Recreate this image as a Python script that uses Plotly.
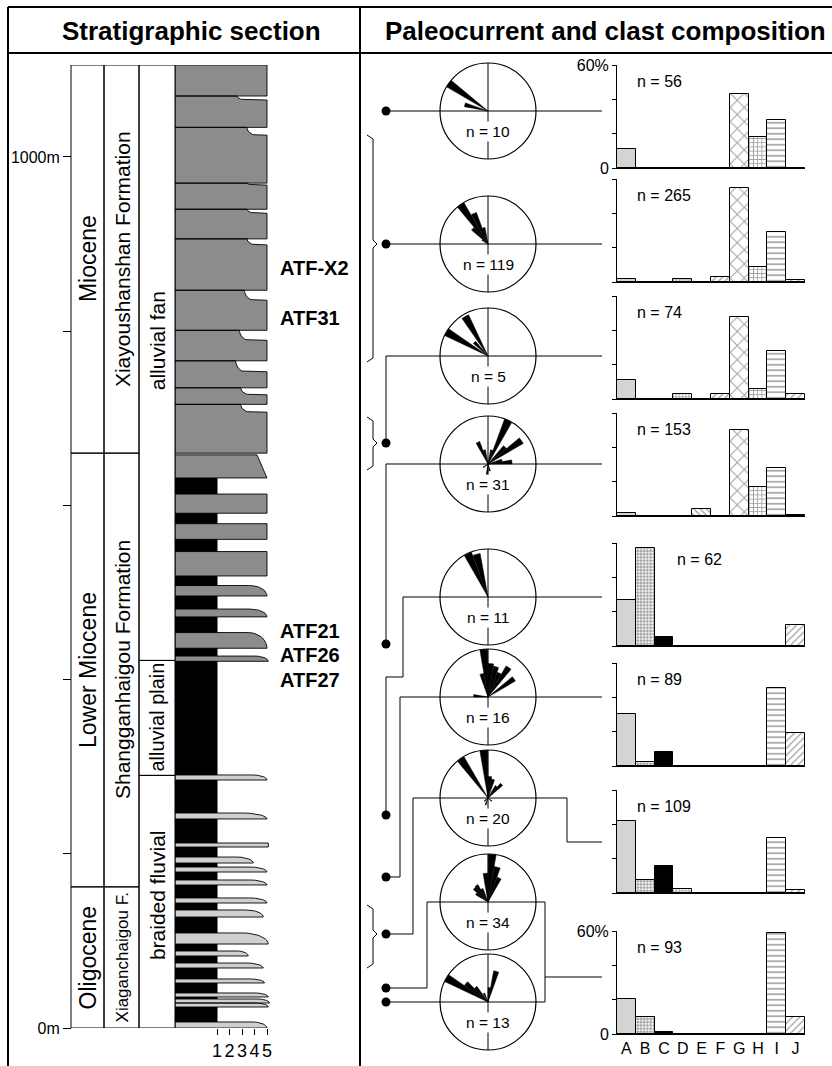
import numpy as np
import plotly.graph_objects as go

W, H = 832, 1066
FONT = "Liberation Sans, Arial, Helvetica, sans-serif"


def px(x):
    return x / W


def py(y):
    return 1 - y / H


# ---------------------------------------------------------------- data
# Stratigraphic section (depth in metres, grain-size scale 1-5)
section_top_m = 1105.6
depth_ticks = [0, 200, 400, 600, 800, 1000]
depth_ticktext = ["0m", "", "", "", "", "1000m"]
grain_ticks = [1, 2, 3, 4, 5]

epoch_names = ["Miocene", "Lower Miocene", "Oligocene"]
epoch_bounds = [1105.6, 660, 162, 0]
formation_names = ["Xiayoushanshan Formation", "Shangganhaigou Formation", "Xiaganchaigou F."]
formation_bounds = [1105.6, 660, 162, 0]
facies_names = ["alluvial fan", "alluvial plain", "braided fluvial"]
facies_bounds = [1105.6, 422, 290, 0]
facies_label_depth = [789, 357, 152]

mud_top_m = 631.5
mud_grain = 1.0

# alluvial-fan conglomerate beds (dark grey)
fan_base = [1070, 1034, 970, 940, 906, 847, 801, 766, 735, 716, 660, 631.5, 591, 561, 519, 496, 472, 436, 421]
fan_top = [1105.6, 1070, 1034, 970, 940, 906, 847, 801, 766, 735, 716, 658, 613, 579, 547, 508, 481, 454, 427]
fan_grain = [5, 5, 5, 5, 5, 5, 5, 5, 5, 5, 5, 5, 5, 5, 5, 5, 5, 5, 5.1]
fan_top_grain = [5, 2.6, 3.4, 3.4, 3.4, 3.4, 3.2, 2.8, 2.5, 2.9, 2.9, 4.2, 5, 5, 5, 3.6, 3.6, 3.5, 4.0]
fan_cap = [0, 4.6, 9, 2.3, 4.6, 7, 11.5, 11.5, 12.6, 8, 9, 26.5, 0, 0, 0, 12, 9, 18, 6]
fan_profile = ["rect", "notch", "notch", "notch", "notch", "notch", "notch", "notch", "notch",
               "notch", "notch", "ramp", "rect", "rect", "rect", "lens", "lens", "lens", "lens"]

# braided-fluvial / alluvial-plain sandstone-conglomerate beds (light grey)
fluv_base = [284.7, 240, 207.8, 189.4, 179.1, 164.2, 143.5, 127.4, 96.4, 82.7, 68.9, 51.7, 35.6, 28.7, 24.1, 0]
fluv_top = [290.5, 246.8, 212.4, 196.3, 184.8, 169.9, 149.3, 135.5, 109.1, 88.4, 74.6, 56.3, 40.2, 33.3, 28.7, 6.9]
fluv_grain = [5, 5, 5.1, 3.9, 5, 5, 5, 4.7, 5.1, 3.5, 4.7, 4.8, 5.1, 5.2, 5.1, 5]
fluv_top_grain = [3.8, 3.0, 5, 2.5, 3.6, 3.6, 3.6, 3.3, 3.0, 2.6, 3.3, 3.6, 4.0, 4.2, 4.0, 3.8]
fluv_profile = ["lens", "lens", "rect", "lens", "lens", "lens", "lens", "lens", "lens",
                "lens", "lens", "lens", "lens", "lens", "lens", "lens"]

sample_names = ["ATF-X2", "ATF31", "ATF21", "ATF26", "ATF27"]
sample_depth = [872.6, 815.2, 455.8, 428.2, 399.5]

# Paleocurrent rose diagrams (azimuth in degrees, relative frequency)
rose_n = [10, 119, 5, 31, 11, 16, 20, 34, 13]
rose_azimuth = [
    [285, 305],
    [305, 315, 325, 335, 345],
    [300, 315, 330],
    [15, 25, 45, 55, 75, 85, 165, 185, 235, 335, 345],
    [335, 345],
    [275, 345, 355, 5, 15, 25, 35, 55],
    [5, 15, 35, 45, 130, 200, 230, 325, 355],
    [5, 15, 25, 305, 315, 325, 335, 355],
    [5, 15, 300, 310, 320, 335],
]
rose_freq = [
    [0.5, 1.0],
    [0.15, 0.45, 1.0, 0.7, 0.35],
    [1.0, 0.4, 0.95],
    [0.3, 1.0, 0.5, 0.85, 0.3, 0.5, 0.15, 0.3, 0.12, 0.5, 0.3],
    [1.0, 0.92],
    [0.3, 0.5, 1.0, 0.7, 0.65, 0.55, 0.75, 0.66],
    [0.45, 0.4, 0.3, 0.4, 0.1, 0.15, 0.1, 1.0, 1.0],
    [1.0, 0.75, 0.55, 0.3, 0.4, 0.42, 0.3, 0.6],
    [0.3, 0.66, 1.0, 0.6, 0.4, 0.2],
]

# Clast composition (% of clasts per category)
clast_categories = ["A", "B", "C", "D", "E", "F", "G", "H", "I", "J"]
clast_n = [56, 265, 74, 153, 62, 89, 109, 93]
clast_pct = [
    [11, 0, 0, 0, 0, 0, 43, 18, 28, 0],
    [2, 0, 0, 1.5, 0, 3, 55, 9, 29, 1],
    [11, 0, 0, 3, 0, 3, 47.5, 5.6, 28, 3],
    [2, 0, 0, 0, 4, 0, 50, 17, 28, 0.5],
    [27, 57, 5, 0, 0, 0, 0, 0, 0, 12],
    [30.5, 2.5, 8, 0, 0, 0, 0, 0, 45.5, 19],
    [42, 7.4, 15.7, 2.5, 0, 0, 0, 0, 32, 1.5],
    [20.5, 10, 1.2, 0, 0, 0, 0, 0, 59, 10],
]

# ---------------------------------------------------------------- styling / layout constants
GMIN = 1 - (217 - 175) / 12.5
GMAX = 5 + (300 - 267) / 12.5
fill_color = ["#d4d4d4", "white", "black", "white", "white", "white", "white", "white", "white", "white"]
pattern_shape = ["", ".", "", "+", "\\", "/", "x", "+", "-", "/"]
pattern_size = [8, 3.2, 8, 3.2, 4.5, 4.5, 10, 4.2, 5.5, 5]
pattern_solid = [0.3, 0.65, 0.3, 0.45, 0.3, 0.3, 0.2, 0.38, 0.3, 0.25]

rose_cx, rose_R = 488, 48
rose_cy = [111, 244, 356, 464, 597, 697, 798, 902, 1002]
bar_top = [65, 179, 296, 413, 543, 663, 790, 931]
bar_h = 103
bar_x0, bar_x1 = 617, 805
n_label_x = [0.096, 0.096, 0.096, 0.096, 0.31, 0.096, 0.096, 0.096]


def bed_outline(base, top, g, gt, cap, profile):
    n = 14
    if profile == "rect" or cap <= 0:
        xs = [GMIN, g, g, GMIN, GMIN]
        ys = [base, base, top, top, base]
    elif profile == "notch":
        d = min(0.8, g - gt)
        phi = np.linspace(np.pi / 2, 0, n)
        ax = gt + d * (1 - np.cos(phi))
        ay = top - cap * np.sin(phi)
        xs = [GMIN, g, g] + list(ax) + [GMIN, GMIN]
        ys = [base, base, top - cap] + list(ay) + [top, base]
    elif profile == "ramp":
        xs = [GMIN, g, g, gt, GMIN, GMIN]
        ys = [base, base, top - cap, top, top, base]
    else:  # lens / fining-upward cap
        phi = np.linspace(np.pi / 2, 0, n)
        ax = gt + (g - gt) * np.sin(phi)
        ay = top - cap * (1 - np.cos(phi))
        xs = [GMIN, g, g] + list(ax) + [GMIN, GMIN]
        ys = [base, base, top - cap] + list(ay) + [top, base]
    return xs, ys


def beds_trace(bases, tops, gs, gts, caps, profiles, color):
    X, Y = [], []
    for b, t, g, gt, c, p in zip(bases, tops, gs, gts, caps, profiles):
        xs, ys = bed_outline(b, t, g, gt, c, p)
        X += xs + [None]
        Y += ys + [None]
    return go.Scatter(x=X, y=Y, mode="lines", fill="toself", fillcolor=color,
                      line=dict(color="black", width=0.9), xaxis="x", yaxis="y",
                      hoverinfo="skip", showlegend=False)


fig = go.Figure()

# mudstone background
fig.add_trace(go.Scatter(x=[GMIN, mud_grain, mud_grain, GMIN, GMIN],
                         y=[0, 0, mud_top_m, mud_top_m, 0], mode="lines", fill="toself",
                         fillcolor="black", line=dict(color="black", width=1),
                         xaxis="x", yaxis="y", hoverinfo="skip", showlegend=False))
fig.add_trace(beds_trace(fan_base, fan_top, fan_grain, fan_top_grain, fan_cap, fan_profile, "#8c8c8c"))
fluv_cap = [t - b for b, t in zip(fluv_base, fluv_top)]
fig.add_trace(beds_trace(fluv_base, fluv_top, fluv_grain, fluv_top_grain, fluv_cap, fluv_profile, "#d0d0d0"))

layout = dict(width=W, height=H, margin=dict(l=0, r=0, t=0, b=0), autosize=False,
              template="none", paper_bgcolor="white", plot_bgcolor="rgba(0,0,0,0)",
              showlegend=False, hovermode=False, bargap=0,
              font=dict(family=FONT, size=15, color="black"))

layout["xaxis"] = dict(domain=[px(175), px(300)], range=[GMIN, GMAX], anchor="y",
                       tickvals=grain_ticks, ticktext=[str(v) for v in grain_ticks],
                       ticks="outside", ticklen=6, tickcolor="black", showline=False,
                       showgrid=False, zeroline=False, tickfont=dict(size=18), tickangle=0)
layout["yaxis"] = dict(domain=[py(1028), py(65)], range=[0, section_top_m], anchor="free",
                       position=px(71), tickvals=depth_ticks, ticktext=depth_ticktext,
                       ticks="outside", ticklen=8, tickcolor="black", showline=False,
                       showgrid=False, zeroline=False, tickfont=dict(size=16))

shapes = []
annotations = []
LINE = dict(color="black", width=1)


def note(**kw):
    kw.setdefault("xanchor", "center")
    kw.setdefault("yanchor", "middle")
    kw.setdefault("showarrow", False)
    annotations.append(kw)


# column boxes
for names, bounds, x0, x1 in [(epoch_names, epoch_bounds, 71, 104),
                               (formation_names, formation_bounds, 104, 139),
                               (facies_names, facies_bounds, 139, 175)]:
    for i, name in enumerate(names):
        shapes.append(dict(type="rect", xref="paper", yref="y", x0=px(x0), x1=px(x1),
                           y0=bounds[i + 1], y1=bounds[i], line=LINE, layer="above"))
for i, name in enumerate(epoch_names):
    note(text=name, xref="paper", yref="y", x=px(88),
         y=(epoch_bounds[i] + epoch_bounds[i + 1]) / 2, textangle=-90, font=dict(size=23))
for i, name in enumerate(formation_names):
    note(text=name, xref="paper", yref="y", x=px(122),
         y=(formation_bounds[i] + formation_bounds[i + 1]) / 2, textangle=-90,
         font=dict(size=21 if i < 2 else 17))
for i, name in enumerate(facies_names):
    note(text=name, xref="paper", yref="y", x=px(157.5), y=facies_label_depth[i],
         textangle=-90, font=dict(size=21 if i != 1 else 20))
for name, d in zip(sample_names, sample_depth):
    note(text="<b>%s</b>" % name, xref="x", yref="y", x=5.88, y=d, xanchor="left",
         font=dict(size=20))

# frame and headers
for (x0, y0, x1, y1) in [(8, 7, 840, 7), (8, 7, 8, 1070), (8, 53, 840, 53), (360, 7, 360, 1070)]:
    shapes.append(dict(type="line", xref="paper", yref="paper", x0=px(x0), y0=py(y0),
                       x1=px(x1), y1=py(y1), line=dict(color="black", width=2)))
note(text="<b>Stratigraphic section</b>", xref="paper", yref="paper",
     x=px(191), y=py(31), font=dict(size=26))
note(text="<b>Paleocurrent and clast composition</b>", xref="paper", yref="paper",
     x=px(383), y=py(31), xanchor="left", font=dict(size=26))

# rose diagrams
for i, cy in enumerate(rose_cy):
    key = "polar" if i == 0 else "polar%d" % (i + 1)
    layout[key] = dict(
        domain=dict(x=[px(rose_cx - rose_R), px(rose_cx + rose_R)],
                    y=[py(cy + rose_R), py(cy - rose_R)]),
        bgcolor="white",
        angularaxis=dict(rotation=90, direction="clockwise", tickvals=[0, 90, 180, 270],
                         showticklabels=False, ticks="", showgrid=True, gridcolor="black",
                         gridwidth=1, showline=True, linecolor="black", linewidth=1.2),
        radialaxis=dict(visible=False, range=[0, 1]),
    )
    fig.add_trace(go.Barpolar(r=rose_freq[i], theta=rose_azimuth[i],
                              width=[9.5] * len(rose_azimuth[i]),
                              marker=dict(color="black", line=dict(color="black", width=0.5)),
                              subplot=key, hoverinfo="skip", showlegend=False))
    note(text="n = %d" % rose_n[i], xref="paper", yref="paper", x=px(rose_cx),
         y=py(cy + 20.5), bgcolor="white", borderpad=1, font=dict(size=15.5))

# clast composition bar charts
for k in range(8):
    a = k + 2
    fig.add_trace(go.Bar(
        x=clast_categories, y=clast_pct[k], xaxis="x%d" % a, yaxis="y%d" % a, width=1.0,
        marker=dict(color=fill_color, line=dict(color="black", width=1),
                    pattern=dict(shape=pattern_shape, size=pattern_size,
                                 solidity=pattern_solid, fgcolor="black", fillmode="overlay")),
        hoverinfo="skip", showlegend=False))
    top = bar_top[k]
    layout["xaxis%d" % a] = dict(domain=[px(bar_x0), px(bar_x1)], anchor="y%d" % a,
                                 range=[-0.5, 9.5], showline=True, linecolor="black",
                                 linewidth=1.2, ticks="", showticklabels=(k == 7),
                                 tickmode="array", tickvals=clast_categories,
                                 ticktext=clast_categories, tickangle=0,
                                 tickfont=dict(size=16), showgrid=False, zeroline=False,
                                 type="category")
    layout["yaxis%d" % a] = dict(domain=[py(top + bar_h), py(top)], anchor="x%d" % a,
                                 range=[0, 60], tickvals=[0, 20, 40, 60],
                                 ticktext=["0", "", "", "60%"], ticks="outside", ticklen=4,
                                 tickcolor="black", showticklabels=(k in (0, 7)),
                                 tickfont=dict(size=16), showline=True, linecolor="black",
                                 linewidth=1, showgrid=False, zeroline=False)
    note(text="n = %d" % clast_n[k], xref="x%d domain" % a, yref="y%d domain" % a,
         x=n_label_x[k], y=0.835, xanchor="left", font=dict(size=16))

# connectors between samples, roses and bar charts
connector_paths = [
    [(386, 111), (440, 111)], [(536, 111), (602, 111)],
    [(386, 244), (440, 244)], [(536, 244), (602, 244)],
    [(440, 356), (386, 356), (386, 443)], [(536, 356), (602, 356)],
    [(440, 464), (386, 464), (386, 644)], [(536, 464), (602, 464)],
    [(440, 597), (403, 597), (403, 677), (386, 677), (386, 815)], [(536, 597), (602, 597)],
    [(440, 697), (400, 697), (400, 877), (386, 877)], [(536, 697), (602, 697)],
    [(440, 798), (413, 798), (413, 934), (386, 934)],
    [(536, 798), (567, 798), (567, 842), (602, 842)],
    [(440, 902), (427, 902), (427, 988), (386, 988)],
    [(536, 902), (545, 902), (545, 1002), (536, 1002)],
    [(386, 1002), (440, 1002)], [(545, 977), (602, 977)],
]
for path in connector_paths:
    d = "M " + " L ".join("%.5f %.5f" % (px(x), py(y)) for x, y in path)
    shapes.append(dict(type="path", xref="paper", yref="paper", path=d,
                       line=dict(color="black", width=1)))
for y in [111, 244, 443, 644, 815, 877, 934, 988, 1002]:
    shapes.append(dict(type="circle", xref="paper", yref="paper", x0=px(381.5), x1=px(390.5),
                       y0=py(y + 4.5), y1=py(y - 4.5), fillcolor="black",
                       line=dict(color="black", width=0)))
for (y0, ym, y1) in [(135, 244, 362), (417, 443, 470), (905, 934, 968)]:
    pts = [(367, y0), (373, y0 + 4), (373, ym - 4), (377, ym), (373, ym + 4), (373, y1 - 4), (367, y1)]
    d = "M " + " L ".join("%.5f %.5f" % (px(x), py(y)) for x, y in pts)
    shapes.append(dict(type="path", xref="paper", yref="paper", path=d,
                       line=dict(color="black", width=1)))

layout["shapes"] = shapes
layout["annotations"] = annotations
fig.update_layout(**layout)
fig.write_html("out.html", config={"displayModeBar": False},
               post_script="document.body.style.margin='0';")
